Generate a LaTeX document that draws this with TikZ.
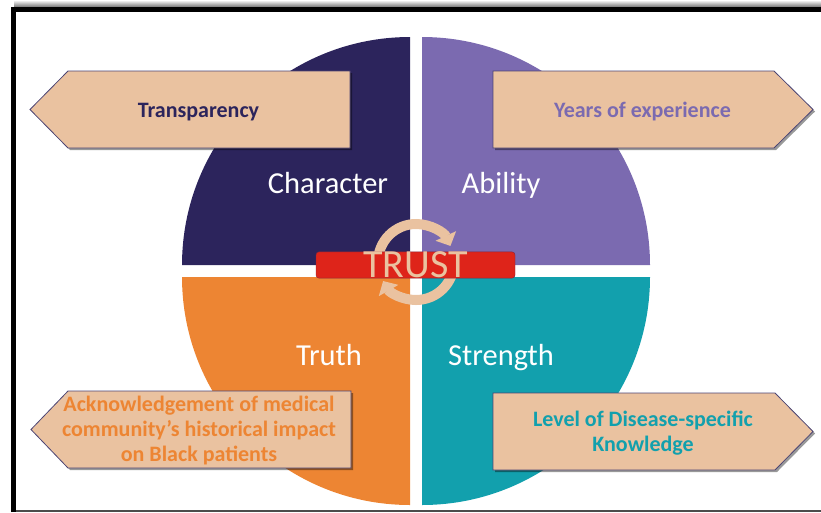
\documentclass[tikz,border=0pt]{standalone}
\usepackage{fontspec}
\setmainfont{Carlito}
\usepackage{tikz}
\usetikzlibrary{arrows.meta, calc, shadows}
\definecolor{navy}{RGB}{44, 36, 92}
\definecolor{lilac}{RGB}{123, 106, 176}
\definecolor{tangerine}{RGB}{237, 133, 51}
\definecolor{tealq}{RGB}{18, 160, 173}
\definecolor{peach}{RGB}{234, 194, 160}
\definecolor{trustred}{RGB}{222, 36, 26}

\begin{document}
\begin{tikzpicture}[x=1pt, y=-1pt,
    quadlabel/.style={text=white, font=\fontsize{30.5}{33}\selectfont, anchor=base},
    callout/.style={fill=peach, draw=navy!85, line width=0.8pt,
        drop shadow={shadow xshift=2pt, shadow yshift=-2pt, fill=black, opacity=0.4}},
    notetext/.style={font=\fontsize{22}{25}\selectfont\bfseries, align=center},
    cycarrow/.style={peach, line width=10pt, -{Triangle[length=11pt, width=22pt]}}]
        \useasboundingbox (0,0) rectangle (821,512);

        % Frame
        \shade[top color=white, bottom color=black!55] (14,0) rectangle (821,7);
        \draw[line width=5pt] (13.5,512) -- (13.5,9.5) -- (821,9.5);
        \draw[black!70, line width=1.5pt] (16,511.2) -- (821,511.2);

        % Quadrants
        \fill[navy] (410,265) -- (182,265) arc[start angle=180, end angle=270, radius=228] -- cycle;
        \fill[lilac] (422,265) -- (422,37) arc[start angle=270, end angle=360, radius=228] -- cycle;
        \fill[tealq] (422,277) -- (650,277) arc[start angle=0, end angle=90, radius=228] -- cycle;
        \fill[tangerine] (410,277) -- (410,505) arc[start angle=90, end angle=180, radius=228] -- cycle;

        \node[quadlabel] (quad1) at (328,193) {Character};
        \node[quadlabel] (quad2) at (501,193) {Ability};
        \node[quadlabel] (quad3) at (329,365) {Truth};
        \node[quadlabel] (quad4) at (501,365) {Strength};

        % Callouts
        \draw[callout] (30,109.5) -- (68,71) -- (350,71) -- (350,148) -- (68,148) -- cycle;
        \node[notetext, text=navy, anchor=base] (note1) at (198.5,117) {Transparency};

        \draw[callout] (493,71) -- (774,71) -- (813,109.5) -- (774,148) -- (493,148) -- cycle;
        \node[notetext, text=lilac, anchor=base] (note2) at (642.5,117) {Years of experience};

        \draw[callout] (31,429.5) -- (68,391) -- (351,391) -- (351,468) -- (68,468) -- cycle;
        \node[notetext, text=tangerine] (note3) at (199,431) {Acknowledgement of medical\\community’s historical impact\\on Black patients};

        \draw[callout] (493,393) -- (775,393) -- (813,431.5) -- (775,470) -- (493,470) -- cycle;
        \node[notetext, text=tealq] (note4) at (643,433) {Level of Disease-specific\\Knowledge};

        % Trust cycle
        \coordinate (hub) at (416,262);
        \draw[cycarrow] ($(hub)+(180:38)$) arc[start angle=180, end angle=335, radius=38];
        \draw[cycarrow] ($(hub)+(0:38)$) arc[start angle=0, end angle=150, radius=38];

        \node[draw=navy!50!trustred, fill=trustred, rounded corners=3pt, minimum width=199pt, minimum height=26pt,
            inner sep=0pt, text=peach, font=\fontsize{40}{40}\selectfont] (trust) at (415.5,265) {TRUST};

    \end{tikzpicture}
\end{document}
